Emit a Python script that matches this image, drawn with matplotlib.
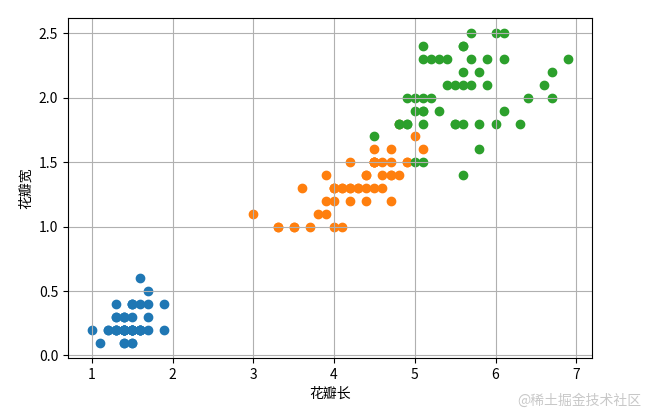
import numpy as np
import matplotlib.pyplot as plt

plt.rcParams['font.family'] = ['Noto Sans CJK SC', 'DejaVu Sans']
plt.rcParams['axes.unicode_minus'] = False

# iris petal length / width by species
setosa_len = [1.4, 1.4, 1.3, 1.5, 1.4, 1.7, 1.4, 1.5, 1.4, 1.5, 1.5, 1.6, 1.4, 1.1, 1.2, 1.5, 1.3, 1.4, 1.7, 1.5,
              1.7, 1.5, 1.0, 1.7, 1.9, 1.6, 1.6, 1.5, 1.4, 1.6, 1.6, 1.5, 1.5, 1.4, 1.5, 1.2, 1.3, 1.4, 1.3, 1.5,
              1.3, 1.3, 1.3, 1.6, 1.9, 1.4, 1.6, 1.4, 1.5, 1.4]
setosa_wid = [0.2, 0.2, 0.2, 0.2, 0.2, 0.4, 0.3, 0.2, 0.2, 0.1, 0.2, 0.2, 0.1, 0.1, 0.2, 0.4, 0.4, 0.3, 0.3, 0.3,
              0.2, 0.4, 0.2, 0.5, 0.2, 0.2, 0.4, 0.2, 0.2, 0.2, 0.2, 0.4, 0.1, 0.2, 0.2, 0.2, 0.2, 0.1, 0.2, 0.2,
              0.3, 0.3, 0.2, 0.6, 0.4, 0.3, 0.2, 0.2, 0.2, 0.2]
versicolor_len = [4.7, 4.5, 4.9, 4.0, 4.6, 4.5, 4.7, 3.3, 4.6, 3.9, 3.5, 4.2, 4.0, 4.7, 3.6, 4.4, 4.5, 4.1, 4.5, 3.9,
                  4.8, 4.0, 4.9, 4.7, 4.3, 4.4, 4.8, 5.0, 4.5, 3.5, 3.8, 3.7, 3.9, 5.1, 4.5, 4.5, 4.7, 4.4, 4.1, 4.0,
                  4.4, 4.6, 4.0, 3.3, 4.2, 4.2, 4.2, 4.3, 3.0, 4.1]
versicolor_wid = [1.4, 1.5, 1.5, 1.3, 1.5, 1.3, 1.6, 1.0, 1.3, 1.4, 1.0, 1.5, 1.0, 1.4, 1.3, 1.4, 1.5, 1.0, 1.5, 1.1,
                  1.8, 1.3, 1.5, 1.2, 1.3, 1.4, 1.4, 1.7, 1.5, 1.0, 1.1, 1.0, 1.2, 1.6, 1.5, 1.6, 1.5, 1.3, 1.3, 1.3,
                  1.2, 1.4, 1.2, 1.0, 1.3, 1.2, 1.3, 1.3, 1.1, 1.3]
virginica_len = [6.0, 5.1, 5.9, 5.6, 5.8, 6.6, 4.5, 6.3, 5.8, 6.1, 5.1, 5.3, 5.5, 5.0, 5.1, 5.3, 5.5, 6.7, 6.9, 5.0,
                 5.7, 4.9, 6.7, 4.9, 5.7, 6.0, 4.8, 4.9, 5.6, 5.8, 6.1, 6.4, 5.6, 5.1, 5.6, 6.1, 5.6, 5.5, 4.8, 5.4,
                 5.6, 5.1, 5.1, 5.9, 5.7, 5.2, 5.0, 5.2, 5.4, 5.1]
virginica_wid = [2.5, 1.9, 2.1, 1.8, 2.2, 2.1, 1.7, 1.8, 1.8, 2.5, 2.0, 1.9, 2.1, 2.0, 2.4, 2.3, 1.8, 2.2, 2.3, 1.5,
                 2.3, 2.0, 2.0, 1.8, 2.1, 1.8, 1.8, 1.8, 2.1, 1.6, 1.9, 2.0, 2.2, 1.5, 1.4, 2.3, 2.4, 1.8, 1.8, 2.1,
                 2.4, 2.3, 1.9, 2.3, 2.5, 2.3, 1.9, 2.0, 2.3, 1.8]

fig = plt.figure(figsize=(6.51, 4.16), dpi=100)
ax = fig.add_axes([68 / 651, 58 / 416, 524 / 651, 340 / 416])

ax.scatter(setosa_len, setosa_wid)
ax.scatter(versicolor_len, versicolor_wid)
ax.scatter(virginica_len, virginica_wid)

ax.set_xlabel('花瓣长')
ax.set_ylabel('花瓣宽')
ax.grid(True)

fig.text(0.985, 0.02, '@稀土掘金技术社区', ha='right', va='bottom', color='#c8c8c8', fontsize=10)

fig.savefig('out.png', dpi=100)
